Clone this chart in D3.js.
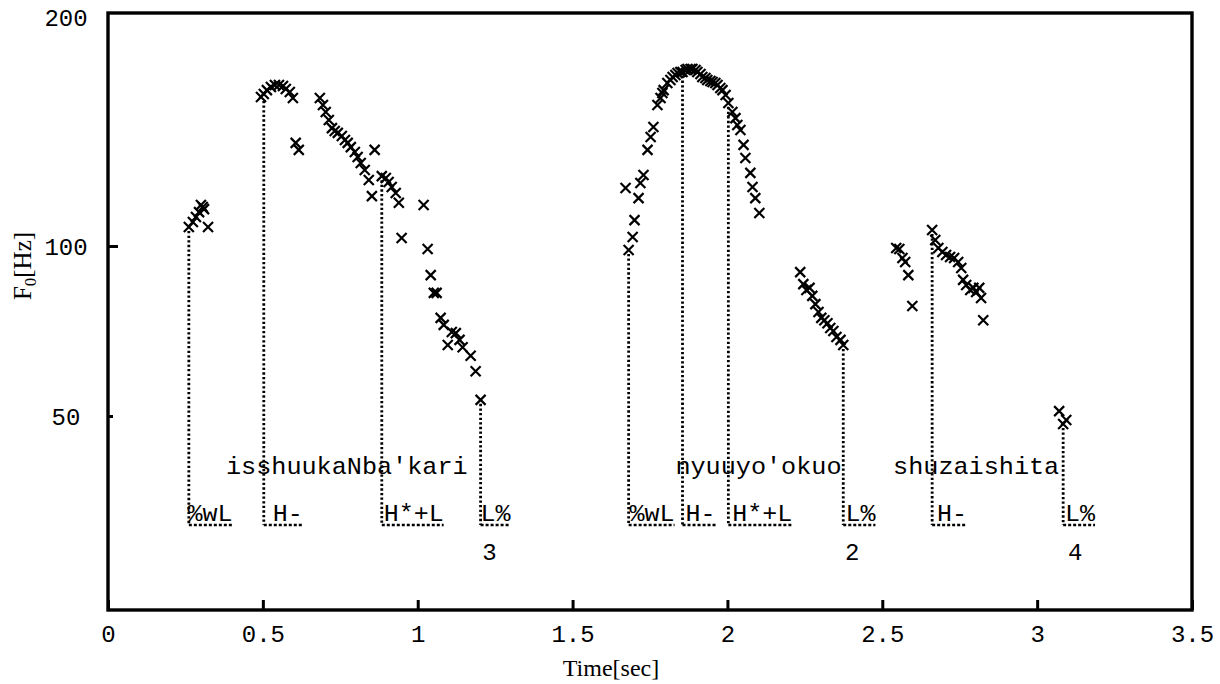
<!DOCTYPE html>
<html>
<head>
<meta charset="utf-8">
<script src="https://cdn.jsdelivr.net/npm/d3@7"></script>
<style>
  html, body { margin: 0; padding: 0; background: #fff; }
  svg { display: block; }
  .mono { font-family: "Liberation Mono", "DejaVu Sans Mono", monospace; fill: #000; }
  .serif { font-family: "Liberation Serif", "DejaVu Serif", serif; fill: #000; }
</style>
</head>
<body>
<svg id="chart" width="1220" height="684"></svg>
<script>
// ---------- DATA ----------
const f0Time = [
  // isshuukaNba'kari
  0.261, 0.274, 0.284, 0.294, 0.300, 0.306, 0.310, 0.323,
  0.494, 0.503, 0.513, 0.526, 0.539, 0.552, 0.565, 0.574, 0.587, 0.597, 0.606, 0.616,
  0.684, 0.694, 0.703, 0.713, 0.723, 0.732, 0.742, 0.755, 0.765, 0.774, 0.784, 0.797,
  0.806, 0.816, 0.829, 0.842, 0.852, 0.861,
  0.884, 0.897, 0.906, 0.916, 0.929, 0.939, 0.948,
  1.019, 1.032, 1.042, 1.052, 1.061, 1.074, 1.084, 1.097, 1.110, 1.123, 1.135, 1.145,
  1.171, 1.187, 1.203,
  // nyuuyo'okuo
  1.671, 1.681, 1.694, 1.700, 1.713, 1.719, 1.729, 1.742, 1.752, 1.761, 1.774, 1.784,
  1.790, 1.794, 1.806, 1.816, 1.823, 1.832, 1.839, 1.848, 1.855, 1.865, 1.871, 1.881,
  1.887, 1.897, 1.903, 1.913, 1.919, 1.929, 1.935, 1.945, 1.952, 1.961, 1.968, 1.977,
  1.984, 1.994, 2.003, 2.016, 2.026, 2.032, 2.042, 2.052, 2.058, 2.074, 2.081, 2.090, 2.103,
  2.235, 2.245, 2.255, 2.265, 2.274, 2.284, 2.294, 2.303, 2.313, 2.323, 2.332, 2.342,
  2.352, 2.365, 2.374,
  // shuzaishita
  2.545, 2.555, 2.565, 2.574, 2.584, 2.597,
  2.661, 2.671, 2.681, 2.694, 2.706, 2.719, 2.732, 2.745, 2.755, 2.761, 2.771, 2.784,
  2.794, 2.803, 2.813, 2.819, 2.826,
  3.071, 3.084, 3.094
];
const f0Hz = [
  105.8, 107.4, 109.0, 110.6, 113.0, 112.3, 111.6, 105.8,
  155.8, 157.2, 159.0, 160.5, 161.4, 161.4, 161.0, 159.5, 158.1, 155.3, 135.9, 133.1,
  155.3, 152.1, 149.0, 145.5, 142.0, 140.8, 140.0, 138.7, 137.1, 135.9, 134.2, 132.3,
  130.3, 128.0, 125.4, 121.7, 116.0, 133.1,
  123.1, 122.4, 121.0, 119.2, 117.1, 113.7, 102.4,
  113.0, 98.8, 88.8, 82.6, 82.6, 74.6, 72.5, 66.8, 70.4, 70.1, 68.2, 66.2,
  63.9, 60.0, 53.4,
  118.8, 98.4, 102.7, 108.0, 115.3, 120.6, 123.5, 133.1, 138.3, 142.5, 152.1, 155.3,
  157.6, 159.0, 162.4, 163.9, 165.3, 166.3, 167.3, 167.8, 167.8, 168.8, 169.3, 169.3,
  169.3, 168.8, 167.8, 166.8, 165.3, 164.8, 163.9, 163.4, 162.9, 162.4, 161.4, 160.0,
  159.0, 156.7, 153.0, 149.0, 146.3, 143.3, 141.2, 135.1, 129.9, 124.3, 119.2, 115.3, 110.3,
  89.9, 85.6, 83.6, 84.3, 81.6, 78.9, 76.4, 74.6, 73.9, 73.0, 71.6, 70.7,
  69.0, 68.2, 66.8,
  99.2, 98.8, 95.2, 93.7, 88.8, 78.3,
  104.9, 101.8, 99.2, 97.6, 96.4, 95.6, 95.2, 93.7, 91.4, 87.1, 85.3, 83.6,
  84.3, 82.9, 84.3, 80.9, 73.9,
  51.0, 48.4, 49.2
];

// drop lines (tone targets)
const dropTime = [0.261, 0.503, 0.884, 1.203, 1.681, 1.855, 2.003, 2.374, 2.661, 3.084];
const dropHz   = [105.8, 155.8, 123.1, 53.4, 98.4, 167.8, 153.0, 66.8, 104.9, 48.4];

// tone labels
const toneLabels = ["%wL", "H-", "H*+L", "L%", "%wL", "H-", "H*+L", "L%", "H-", "L%"];
const toneTime   = [0.257, 0.532, 0.890, 1.203, 1.684, 1.865, 2.016, 2.381, 2.677, 3.090];

// word labels
const wordLabels = ["isshuukaNba'kari", "nyuuyo'okuo", "shuzaishita"];
const wordTime   = [0.381, 1.832, 2.535];

// break indices
const breakLabels = ["3", "2", "4"];
const breakTime   = [1.232, 2.403, 3.123];

// axes
const xTicks = [0, 0.5, 1, 1.5, 2, 2.5, 3, 3.5];
const xTickLabels = ["0", "0.5", "1", "1.5", "2", "2.5", "3", "3.5"];
const yTicks = [50, 100, 200];
const yTickLabels = ["50", "100", "200"];

// ---------- LAYOUT ----------
const L = 108, R = 1192, T = 13, B = 610;
const svg = d3.select("#chart");

const x = d3.scaleLinear().domain([0, 3.5]).range([L, R]);
// piecewise logarithmic F0 axis as in the original figure
const y = d3.scaleLog().domain([22.66, 50, 100, 200]).range([B, 416, 246, T]);

const CHAR = 15;          // monospace advance in the figure
const wordY = 474, toneY = 521, lineBottom = 525, breakY = 560;

// drop lines
svg.append("g").selectAll("line").data(dropTime).join("line")
  .attr("x1", d => x(d)).attr("x2", d => x(d))
  .attr("y1", (d, i) => y(dropHz[i]) + 4)
  .attr("y2", lineBottom)
  .attr("stroke", "#000").attr("stroke-width", 2.8)
  .attr("stroke-dasharray", "2.3,2.3");

// underlines from drop line to end of tone label
svg.append("g").selectAll("line").data(toneLabels).join("line")
  .attr("x1", (d, i) => x(dropTime[i]))
  .attr("x2", (d, i) => x(toneTime[i]) + d.length * CHAR)
  .attr("y1", lineBottom).attr("y2", lineBottom)
  .attr("stroke", "#000").attr("stroke-width", 2.6)
  .attr("stroke-dasharray", "3,2");

// tone labels
svg.append("g").selectAll("text").data(toneLabels).join("text")
  .attr("class", "mono")
  .attr("x", (d, i) => x(toneTime[i]))
  .attr("y", toneY)
  .attr("font-size", 24)
  .attr("textLength", d => d.length * CHAR)
  .attr("lengthAdjust", "spacingAndGlyphs")
  .text(d => d);

// word labels
svg.append("g").selectAll("text").data(wordLabels).join("text")
  .attr("class", "mono")
  .attr("x", (d, i) => x(wordTime[i]))
  .attr("y", wordY)
  .attr("font-size", 24)
  .attr("textLength", d => d.length * 15.1)
  .attr("lengthAdjust", "spacingAndGlyphs")
  .text(d => d);

// break indices
svg.append("g").selectAll("text").data(breakLabels).join("text")
  .attr("class", "mono")
  .attr("x", (d, i) => x(breakTime[i]))
  .attr("y", breakY)
  .attr("text-anchor", "middle")
  .attr("font-size", 24)
  .text(d => d);

// F0 markers (x)
const cross = "M-5,-5L5,5M-5,5L5,-5";
svg.append("g").selectAll("path").data(f0Time).join("path")
  .attr("d", cross)
  .attr("transform", (d, i) => `translate(${x(d)},${y(f0Hz[i])})`)
  .attr("stroke", "#000").attr("stroke-width", 2.2).attr("fill", "none");

// frame
svg.append("rect")
  .attr("x", L).attr("y", T).attr("width", R - L).attr("height", B - T)
  .attr("fill", "none").attr("stroke", "#000").attr("stroke-width", 3.4);

// x axis
const xAxis = d3.axisBottom(x).tickValues(xTicks)
  .tickFormat((d, i) => xTickLabels[i]).tickSize(-10).tickPadding(20);
const gx = svg.append("g").attr("transform", `translate(0,${B})`).call(xAxis);
gx.select(".domain").remove();
gx.selectAll(".tick line").attr("stroke", "#000").attr("stroke-width", 3);
gx.selectAll(".tick text").attr("class", "mono").attr("font-size", 24)
  .attr("y", 32).attr("dy", 0).attr("fill", "#000");

// y axis
const yAxis = d3.axisLeft(y).tickValues(yTicks)
  .tickFormat((d, i) => yTickLabels[i]).tickSize(-10);
const gy = svg.append("g").attr("transform", `translate(${L},0)`).call(yAxis);
gy.select(".domain").remove();
gy.selectAll(".tick line").attr("stroke", "#000").attr("stroke-width", 3)
  .attr("x2", d => d === 50 ? 5 : (d === 200 ? 0 : 10));
gy.selectAll(".tick text").attr("class", "mono").attr("font-size", 24)
  .attr("text-anchor", "middle").attr("x", 66 - L).attr("dy", "0.36em")
  .attr("fill", "#000");
gy.selectAll(".tick").filter(d => d === 200).select("text").attr("dy", "0.5em");

// axis titles
svg.append("text").attr("class", "serif")
  .attr("x", 611).attr("y", 676).attr("fill", "#000")
  .attr("text-anchor", "middle").attr("font-size", 24)
  .text("Time[sec]");

const yl = svg.append("text").attr("class", "serif").attr("fill", "#000")
  .attr("transform", "translate(31,266) rotate(-90)")
  .attr("text-anchor", "middle").attr("font-size", 25);
yl.append("tspan").text("F");
yl.append("tspan").attr("font-size", 17).attr("dy", 5).text("0");
yl.append("tspan").attr("dy", -5).text("[Hz]");
</script>
</body>
</html>
